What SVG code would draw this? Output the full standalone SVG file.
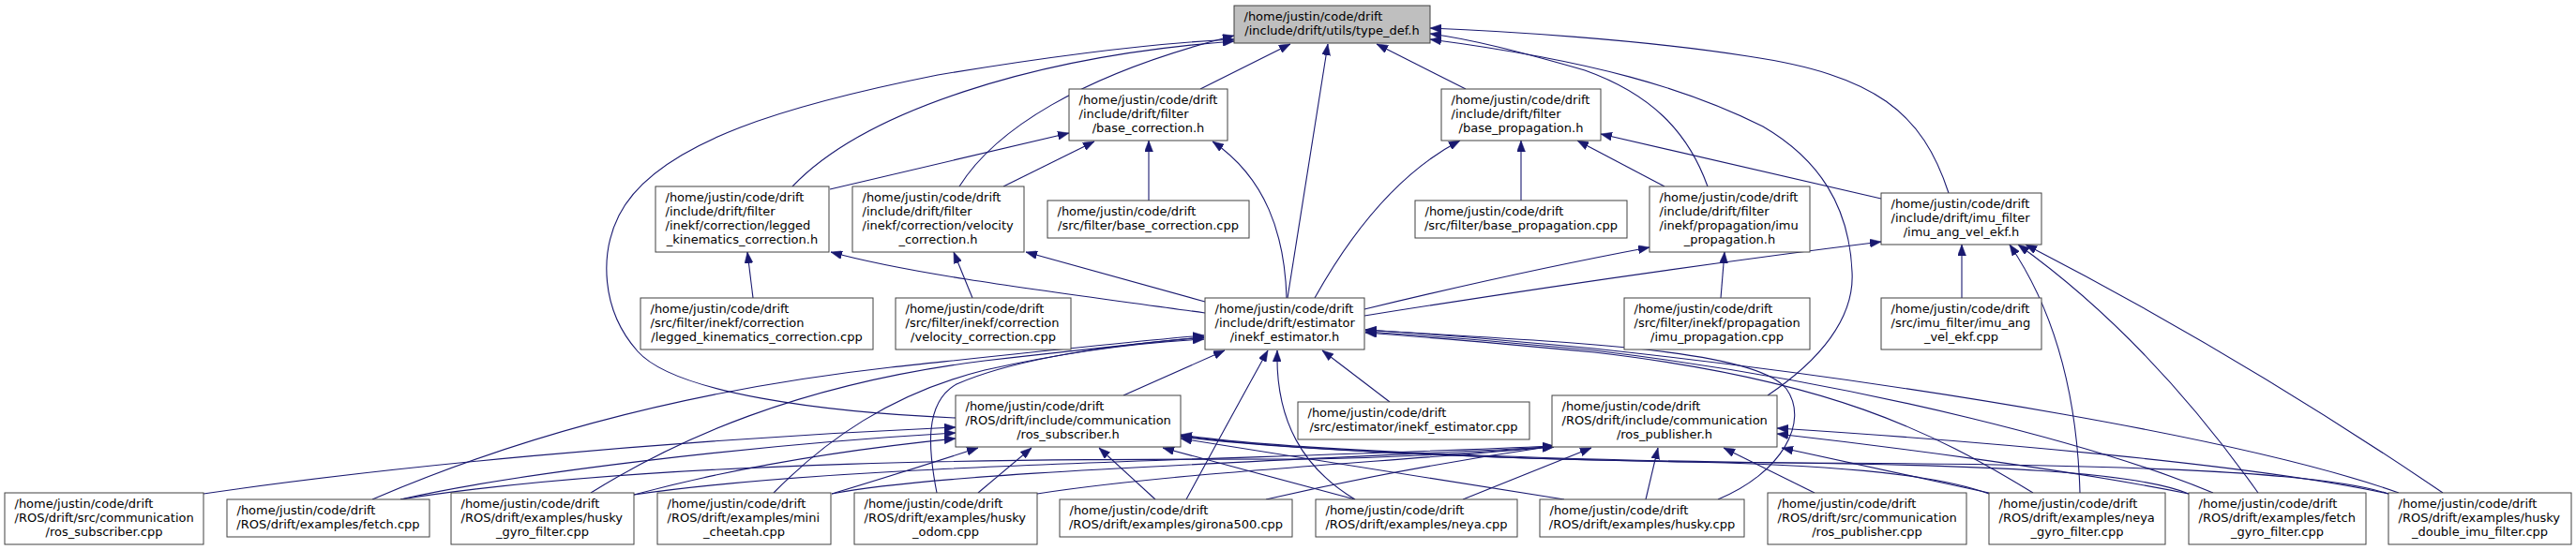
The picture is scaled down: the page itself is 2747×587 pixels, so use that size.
<svg xmlns="http://www.w3.org/2000/svg" width="2747" height="587" viewBox="0 0 2747 587">
<style>
.node rect{fill:#ffffff;stroke:#404040;stroke-width:1}
.root rect{fill:#bfbfbf}
text{font-family:"DejaVu Sans","Liberation Sans",sans-serif;font-size:13px;fill:#000}
.m{text-anchor:middle}
#edges path{fill:none;stroke:#191970;stroke-width:1.1;marker-end:url(#ah)}
</style>
<defs>
<marker id="ah" viewBox="0 0 12 9" refX="12" refY="4.5" markerWidth="12" markerHeight="9" markerUnits="userSpaceOnUse" orient="auto">
<path d="M0,0 L12,4.5 L0,9 z" fill="#191970" stroke="#191970" stroke-width="0.5"/>
</marker>
</defs>
<rect width="2747" height="587" fill="#ffffff"/>
<g id="edges">
<path d="M1280,95 L1376,47"/>
<path d="M1563,95 L1468,47"/>
<path d="M1373,318 L1416,47"/>
<path d="M1019,446 C880,440 720,420 680,375 C640,330 640,270 660,230 C700,150 850,110 1000,80 C1150,55 1250,45 1316,42"/>
<path d="M845,199 C920,120 1100,60 1316,44"/>
<path d="M1023,199 C1060,140 1150,80 1316,38"/>
<path d="M2078,206 C2050,120 2000,80 1864,60 C1750,42 1600,33 1525,30"/>
<path d="M1821,199 C1800,140 1760,100 1690,75 C1620,55 1570,42 1525,36"/>
<path d="M1885,422 C1940,385 1978,340 1975,290 C1972,220 1940,170 1880,135 C1800,95 1700,65 1525,42"/>
<path d="M885,202 L1140,142"/>
<path d="M1070,199 L1167,151"/>
<path d="M1225,214 L1225,150"/>
<path d="M1372,318 C1370,250 1350,190 1293,151"/>
<path d="M1402,318 C1440,250 1490,185 1557,150"/>
<path d="M1622,214 L1622,150"/>
<path d="M1775,199 L1682,150"/>
<path d="M2006,212 L1707,143"/>
<path d="M803,318 L797,269"/>
<path d="M1285,334 C1150,315 980,295 886,269"/>
<path d="M1037,318 L1017,269"/>
<path d="M1285,322 L1094,269"/>
<path d="M1455,330 Q1620,290 1759,264"/>
<path d="M1835,318 L1839,269"/>
<path d="M1455,337 Q1750,290 2006,258"/>
<path d="M2092,318 L2092,261"/>
<path d="M2218,526 C2215,420 2190,330 2143,261"/>
<path d="M2408,526 Q2290,360 2152,261"/>
<path d="M2605,526 Q2390,380 2160,261"/>
<path d="M1198,422 L1306,374"/>
<path d="M1482,429 L1410,374"/>
<path d="M1265,533 Q1310,450 1352,374"/>
<path d="M1445,533 C1390,500 1360,450 1362,374"/>
<path d="M1832,533 C1900,505 1930,450 1905,415 C1870,370 1650,365 1456,352"/>
<path d="M2168,526 C2060,460 1950,405 1700,376 Q1550,362 1456,355"/>
<path d="M2360,526 C2250,480 2000,410 1700,374 Q1550,360 1456,354"/>
<path d="M2558,526 C2400,470 2050,410 1700,372 Q1550,358 1456,352"/>
<path d="M397,533 C520,480 700,420 950,392 C1100,376 1200,365 1284,358"/>
<path d="M630,526 C720,470 850,410 1050,385 Q1200,368 1284,360"/>
<path d="M825,526 C880,470 950,420 1050,395 Q1170,368 1284,362"/>
<path d="M999,526 C990,480 985,430 1020,410 Q1100,375 1284,360"/>
<path d="M217,527 C400,500 700,470 1019,456"/>
<path d="M427,533 C550,505 800,475 1019,462"/>
<path d="M676,528 C780,500 900,480 1019,468"/>
<path d="M887,527 Q960,505 1043,478"/>
<path d="M1043,526 L1100,478"/>
<path d="M1232,533 L1172,478"/>
<path d="M1445,533 L1240,478"/>
<path d="M1668,533 L1259,468"/>
<path d="M2121,527 C2060,505 1950,495 1750,492 C1550,488 1350,478 1259,466"/>
<path d="M2334,527 C2280,505 2150,495 1800,493 C1550,489 1350,478 1259,465"/>
<path d="M2547,527 C2480,505 2300,495 1900,494 C1600,490 1350,478 1259,464"/>
<path d="M1350,533 C1450,510 1560,490 1657,476"/>
<path d="M427,533 C700,490 1100,490 1400,490 C1500,488 1600,482 1657,476"/>
<path d="M676,528 C900,495 1300,492 1657,476"/>
<path d="M887,527 C1000,505 1300,495 1657,477"/>
<path d="M1106,527 C1250,505 1450,495 1657,477"/>
<path d="M1560,533 L1697,478"/>
<path d="M1755,533 L1768,478"/>
<path d="M1935,526 L1838,478"/>
<path d="M2121,526 L1900,478"/>
<path d="M2334,527 C2200,500 2000,475 1895,463"/>
<path d="M2547,527 C2400,495 2100,470 1895,457"/>
</g>
<g id="n_type_def" class="node root"><rect x="1316" y="6" width="209" height="40"/><text><tspan x="1326.5" y="22">/home/justin/code/drift</tspan><tspan x="1420.5" y="37" class="m">/include/drift/utils/type_def.h</tspan></text></g>
<g id="n_base_correction_h" class="node"><rect x="1140" y="95" width="169" height="55"/><text><tspan x="1150.5" y="111">/home/justin/code/drift</tspan><tspan x="1150.5" y="126">/include/drift/filter</tspan><tspan x="1224.5" y="141" class="m">/base_correction.h</tspan></text></g>
<g id="n_base_propagation_h" class="node"><rect x="1537" y="95" width="170" height="55"/><text><tspan x="1547.5" y="111">/home/justin/code/drift</tspan><tspan x="1547.5" y="126">/include/drift/filter</tspan><tspan x="1622" y="141" class="m">/base_propagation.h</tspan></text></g>
<g id="n_legged_h" class="node"><rect x="699" y="199" width="185" height="70"/><text><tspan x="709.5" y="215">/home/justin/code/drift</tspan><tspan x="709.5" y="230">/include/drift/filter</tspan><tspan x="709.5" y="245">/inekf/correction/legged</tspan><tspan x="791.5" y="260" class="m">_kinematics_correction.h</tspan></text></g>
<g id="n_velocity_h" class="node"><rect x="909" y="199" width="183" height="70"/><text><tspan x="919.5" y="215">/home/justin/code/drift</tspan><tspan x="919.5" y="230">/include/drift/filter</tspan><tspan x="919.5" y="245">/inekf/correction/velocity</tspan><tspan x="1000.5" y="260" class="m">_correction.h</tspan></text></g>
<g id="n_base_correction_cpp" class="node"><rect x="1117" y="214" width="215" height="40"/><text><tspan x="1127.5" y="230">/home/justin/code/drift</tspan><tspan x="1224.5" y="245" class="m">/src/filter/base_correction.cpp</tspan></text></g>
<g id="n_legged_cpp" class="node"><rect x="683" y="318" width="248" height="55"/><text><tspan x="693.5" y="334">/home/justin/code/drift</tspan><tspan x="693.5" y="349">/src/filter/inekf/correction</tspan><tspan x="807" y="364" class="m">/legged_kinematics_correction.cpp</tspan></text></g>
<g id="n_velocity_cpp" class="node"><rect x="955" y="318" width="187" height="55"/><text><tspan x="965.5" y="334">/home/justin/code/drift</tspan><tspan x="965.5" y="349">/src/filter/inekf/correction</tspan><tspan x="1048.5" y="364" class="m">/velocity_correction.cpp</tspan></text></g>
<g id="n_inekf_estimator_h" class="node"><rect x="1285" y="318" width="170" height="55"/><text><tspan x="1295.5" y="334">/home/justin/code/drift</tspan><tspan x="1295.5" y="349">/include/drift/estimator</tspan><tspan x="1370" y="364" class="m">/inekf_estimator.h</tspan></text></g>
<g id="n_imu_propagation_h" class="node"><rect x="1759" y="199" width="171" height="70"/><text><tspan x="1769.5" y="215">/home/justin/code/drift</tspan><tspan x="1769.5" y="230">/include/drift/filter</tspan><tspan x="1769.5" y="245">/inekf/propagation/imu</tspan><tspan x="1844.5" y="260" class="m">_propagation.h</tspan></text></g>
<g id="n_imu_ang_vel_ekf_h" class="node"><rect x="2006" y="206" width="171" height="55"/><text><tspan x="2016.5" y="222">/home/justin/code/drift</tspan><tspan x="2016.5" y="237">/include/drift/imu_filter</tspan><tspan x="2091.5" y="252" class="m">/imu_ang_vel_ekf.h</tspan></text></g>
<g id="n_base_propagation_cpp" class="node"><rect x="1509" y="214" width="226" height="40"/><text><tspan x="1519.5" y="230">/home/justin/code/drift</tspan><tspan x="1622" y="245" class="m">/src/filter/base_propagation.cpp</tspan></text></g>
<g id="n_imu_propagation_cpp" class="node"><rect x="1732" y="318" width="198" height="55"/><text><tspan x="1742.5" y="334">/home/justin/code/drift</tspan><tspan x="1742.5" y="349">/src/filter/inekf/propagation</tspan><tspan x="1831" y="364" class="m">/imu_propagation.cpp</tspan></text></g>
<g id="n_imu_ang_vel_ekf_cpp" class="node"><rect x="2006" y="318" width="171" height="55"/><text><tspan x="2016.5" y="334">/home/justin/code/drift</tspan><tspan x="2016.5" y="349">/src/imu_filter/imu_ang</tspan><tspan x="2091.5" y="364" class="m">_vel_ekf.cpp</tspan></text></g>
<g id="n_ros_subscriber_h" class="node"><rect x="1019" y="422" width="240" height="55"/><text><tspan x="1029.5" y="438">/home/justin/code/drift</tspan><tspan x="1029.5" y="453">/ROS/drift/include/communication</tspan><tspan x="1139" y="468" class="m">/ros_subscriber.h</tspan></text></g>
<g id="n_inekf_estimator_cpp" class="node"><rect x="1384" y="429" width="247" height="40"/><text><tspan x="1394.5" y="445">/home/justin/code/drift</tspan><tspan x="1507.5" y="460" class="m">/src/estimator/inekf_estimator.cpp</tspan></text></g>
<g id="n_ros_publisher_h" class="node"><rect x="1655" y="422" width="240" height="55"/><text><tspan x="1665.5" y="438">/home/justin/code/drift</tspan><tspan x="1665.5" y="453">/ROS/drift/include/communication</tspan><tspan x="1775" y="468" class="m">/ros_publisher.h</tspan></text></g>
<g id="n_ros_subscriber_cpp" class="node"><rect x="5" y="526" width="212" height="55"/><text><tspan x="15.5" y="542">/home/justin/code/drift</tspan><tspan x="15.5" y="557">/ROS/drift/src/communication</tspan><tspan x="111" y="572" class="m">/ros_subscriber.cpp</tspan></text></g>
<g id="n_fetch_cpp" class="node"><rect x="242" y="533" width="216" height="40"/><text><tspan x="252.5" y="549">/home/justin/code/drift</tspan><tspan x="350" y="564" class="m">/ROS/drift/examples/fetch.cpp</tspan></text></g>
<g id="n_husky_gyro_filter_cpp" class="node"><rect x="481" y="526" width="195" height="55"/><text><tspan x="491.5" y="542">/home/justin/code/drift</tspan><tspan x="491.5" y="557">/ROS/drift/examples/husky</tspan><tspan x="578.5" y="572" class="m">_gyro_filter.cpp</tspan></text></g>
<g id="n_mini_cheetah_cpp" class="node"><rect x="701" y="526" width="185" height="55"/><text><tspan x="711.5" y="542">/home/justin/code/drift</tspan><tspan x="711.5" y="557">/ROS/drift/examples/mini</tspan><tspan x="793.5" y="572" class="m">_cheetah.cpp</tspan></text></g>
<g id="n_husky_odom_cpp" class="node"><rect x="911" y="526" width="195" height="55"/><text><tspan x="921.5" y="542">/home/justin/code/drift</tspan><tspan x="921.5" y="557">/ROS/drift/examples/husky</tspan><tspan x="1008.5" y="572" class="m">_odom.cpp</tspan></text></g>
<g id="n_girona500_cpp" class="node"><rect x="1130" y="533" width="248" height="40"/><text><tspan x="1140.5" y="549">/home/justin/code/drift</tspan><tspan x="1254" y="564" class="m">/ROS/drift/examples/girona500.cpp</tspan></text></g>
<g id="n_neya_cpp" class="node"><rect x="1403" y="533" width="215" height="40"/><text><tspan x="1413.5" y="549">/home/justin/code/drift</tspan><tspan x="1510.5" y="564" class="m">/ROS/drift/examples/neya.cpp</tspan></text></g>
<g id="n_husky_cpp" class="node"><rect x="1642" y="533" width="218" height="40"/><text><tspan x="1652.5" y="549">/home/justin/code/drift</tspan><tspan x="1751" y="564" class="m">/ROS/drift/examples/husky.cpp</tspan></text></g>
<g id="n_ros_publisher_cpp" class="node"><rect x="1885" y="526" width="212" height="55"/><text><tspan x="1895.5" y="542">/home/justin/code/drift</tspan><tspan x="1895.5" y="557">/ROS/drift/src/communication</tspan><tspan x="1991" y="572" class="m">/ros_publisher.cpp</tspan></text></g>
<g id="n_neya_gyro_filter_cpp" class="node"><rect x="2121" y="526" width="188" height="55"/><text><tspan x="2131.5" y="542">/home/justin/code/drift</tspan><tspan x="2131.5" y="557">/ROS/drift/examples/neya</tspan><tspan x="2215" y="572" class="m">_gyro_filter.cpp</tspan></text></g>
<g id="n_fetch_gyro_filter_cpp" class="node"><rect x="2334" y="526" width="189" height="55"/><text><tspan x="2344.5" y="542">/home/justin/code/drift</tspan><tspan x="2344.5" y="557">/ROS/drift/examples/fetch</tspan><tspan x="2428.5" y="572" class="m">_gyro_filter.cpp</tspan></text></g>
<g id="n_husky_double_imu_filter_cpp" class="node"><rect x="2547" y="526" width="195" height="55"/><text><tspan x="2557.5" y="542">/home/justin/code/drift</tspan><tspan x="2557.5" y="557">/ROS/drift/examples/husky</tspan><tspan x="2644.5" y="572" class="m">_double_imu_filter.cpp</tspan></text></g>
</svg>
